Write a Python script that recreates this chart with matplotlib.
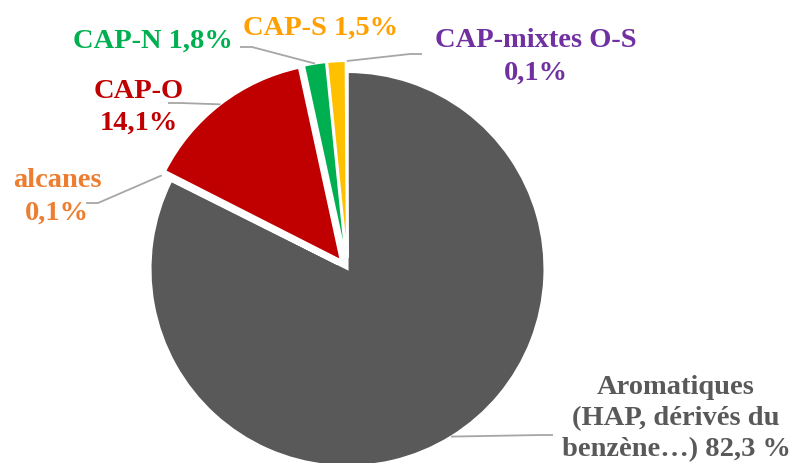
import numpy as np
import matplotlib.pyplot as plt

plt.rcParams['font.family'] = ['Liberation Serif', 'DejaVu Serif']

W, H = 789, 463

# parts (%) going clockwise from 12 o'clock
noms = ['Aromatiques\n(HAP, dérivés du\nbenzène…) 82,3 %', 'alcanes\n0,1%', 'CAP-O\n14,1%',
        'CAP-N 1,8%', 'CAP-S 1,5%', 'CAP-mixtes O-S\n0,1%']
parts = [82.3, 0.1, 14.1, 1.8, 1.5, 0.1]
couleurs = ['#595959', '#ED7D31', '#C00000', '#00B050', '#FFC000', '#7030A0']
couleurs_txt = ['#595959', '#ED7D31', '#C00000', '#00B050', '#FFA000', '#7030A0']
ecart = [0, 11, 11, 11, 11, 11]

# label layout (pixels from top-left): centre x, first baseline y, line step
pos_txt = [(676, 394, 31), (57, 187, 33), (139, 98, 32), (153, 48, 0), (321, 35, 0), (536, 47, 33)]
# elbow of each leader line, then direction of the short horizontal end
coude = [(541, 435), (98, 203), (180, 103), (252, 47), None, (410, 54)]
sens = [1, -1, -1, -1, 0, 1]

cx, cy, r = 347.5, H - 269, 197

fig = plt.figure(figsize=(W / 100, H / 100), dpi=100)
ax = fig.add_axes([0, 0, 1, 1])
ax.pie(parts, colors=couleurs, startangle=90, counterclock=False, center=(cx, cy),
       radius=r, explode=ecart, wedgeprops=dict(edgecolor='white', linewidth=1.5))
ax.set_xlim(0, W)
ax.set_ylim(0, H)
ax.set_aspect('equal')
ax.axis('off')

frac = np.array(parts) / sum(parts)
debut = np.concatenate([[0], np.cumsum(frac)[:-1]])
for i in range(len(parts)):
    t = np.deg2rad(90 - 360 * (debut[i] + frac[i] / 2))
    px = cx + (r + ecart[i]) * np.cos(t)
    py = cy + (r + ecart[i]) * np.sin(t)
    if coude[i] is not None:
        ex, ey = coude[i][0], H - coude[i][1]
        ax.plot([px, ex, ex + 12 * sens[i]], [py, ey, ey], color='#A6A6A6', lw=1.3,
                solid_capstyle='butt')
    x0, y0, pas = pos_txt[i]
    for k, ligne in enumerate(noms[i].split('\n')):
        ax.text(x0, H - (y0 + pas * k), ligne, ha='center', va='baseline',
                fontsize=20.5, fontweight='bold', color=couleurs_txt[i])

fig.savefig('out.png', dpi=100)
